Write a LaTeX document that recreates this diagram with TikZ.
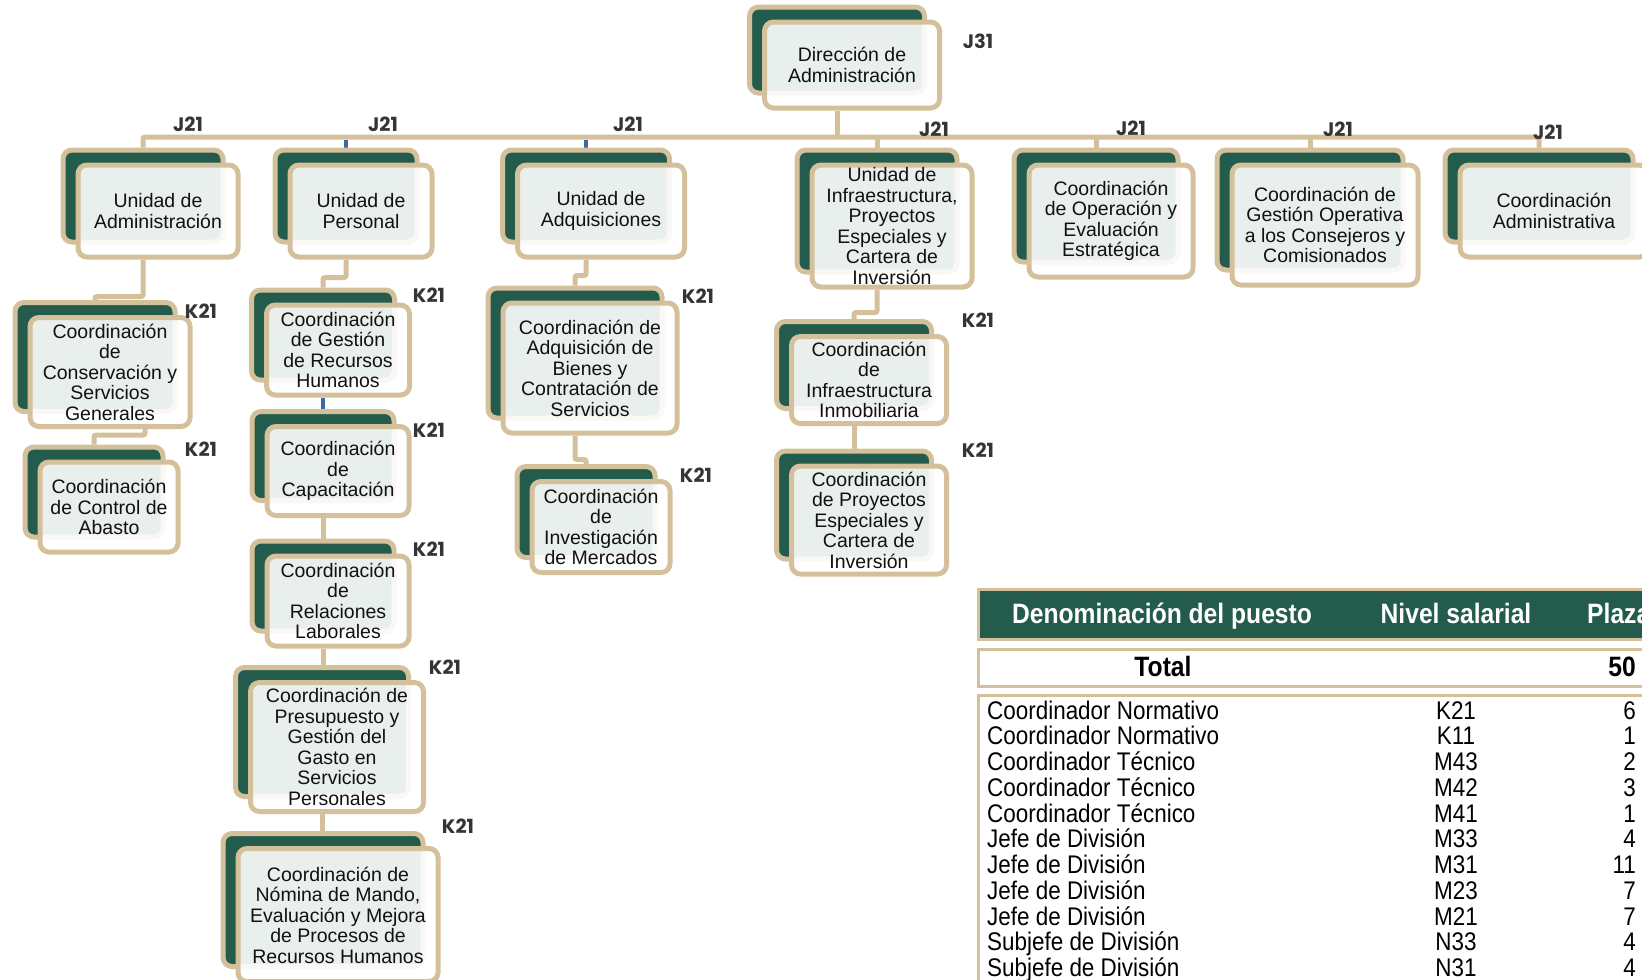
\documentclass[tikz,border=0pt]{standalone}
\usepackage{fontspec}
\setmainfont{Liberation Sans}
\newfontfamily\narrowfont[FakeStretch=0.88]{Liberation Sans}
\newfontfamily\lblfont{Poppins}
\usetikzlibrary{calc}
\definecolor{dkgreen}{HTML}{235C4C}
\definecolor{tanc}{HTML}{D4C19C}
\definecolor{txt}{HTML}{111111}
\definecolor{lblc}{HTML}{353535}
\definecolor{blu}{HTML}{3D68A4}
\pgfdeclarelayer{bg}
\pgfsetlayers{bg,main}
\tikzset{
  backbox/.style={draw=tanc, line width=5pt, fill=dkgreen, rounded corners=9pt, inner sep=0pt},
  frontbox/.style={draw=tanc, line width=5pt, fill=white, fill opacity=0.9, rounded corners=9pt, inner sep=0pt},
  boxtext/.style={align=center, inner sep=0pt, font=\fontsize{19.5}{20.5}\selectfont, text=txt},
  lbl/.style={font=\lblfont\bfseries\fontsize{19.5}{20}\selectfont, text=lblc, inner sep=0pt},
  conn/.style={draw=tanc, line width=5pt, rounded corners=2pt},
  bconn/.style={draw=blu, line width=3.5pt},
  hdr/.style={font=\narrowfont\bfseries\fontsize{28}{30}\selectfont, inner sep=0pt},
  rowt/.style={font=\narrowfont\fontsize{25.5}{27}\selectfont, text=black, inner sep=0pt},
  tabline/.style={draw=tanc, line width=3pt},
}
% name, back centre x, back centre y, width, height, text
\newcommand{\obox}[6]{%
  \node[backbox, minimum width=#4pt, minimum height=#5pt] (#1b) at (#2,#3) {};
  \node[frontbox, minimum width=#4pt, minimum height=#5pt, xshift=15pt, yshift=-15pt] (#1) at (#2,#3) {};
  \node[boxtext] (#1t) at (#1.center) {#6};
}
\begin{document}
\begin{tikzpicture}[x=1pt,y=-1pt]
\useasboundingbox (0,0) rectangle (1642,980);
\clip (0,0) rectangle (1642,980);

% ---------- boxes ----------
\obox{dir}{837}{50}{175}{86}{Dirección de\\Administración}
\obox{ua}{143}{196}{160}{92}{Unidad de\\Administración}
\obox{up}{346}{196}{142}{92}{Unidad de\\Personal}
\obox{uq}{586}{196}{167}{92}{Unidad de\\Adquisiciones}
\obox{ui}{877}{211}{160}{122}{Unidad de\\Infraestructura,\\Proyectos\\Especiales y\\Cartera de\\Inversión}
\obox{co}{1096}{206}{164}{112}{Coordinación\\de Operación y\\Evaluación\\Estratégica}
\obox{cg}{1310}{210}{186}{120}{Coordinación de\\Gestión Operativa\\a los Consejeros y\\Comisionados}
\obox{cad}{1539}{196}{188}{92}{Coordinación\\Administrativa}

\obox{ccs}{95}{357}{160}{109}{Coordinación\\de\\Conservación y\\Servicios\\Generales}
\obox{cca}{94}{492}{138}{90}{Coordinación\\de Control de\\Abasto}

\obox{cgr}{323}{335}{143}{90}{Coordinación\\de Gestión\\de Recursos\\Humanos}
\obox{ccp}{323}{456}{142}{89}{Coordinación\\de\\Capacitación}
\obox{crl}{323}{586}{142}{90}{Coordinación\\de\\Relaciones\\Laborales}
\obox{cpp}{322}{732}{173}{129}{Coordinación de\\Presupuesto y\\Gestión del\\Gasto en\\Servicios\\Personales}
\obox{cnm}{323}{900}{200}{133}{Coordinación de\\Nómina de Mando,\\Evaluación y Mejora\\de Procesos de\\Recursos Humanos}

\obox{cbs}{575}{353}{174}{130}{Coordinación de\\Adquisición de\\Bienes y\\Contratación de\\Servicios}
\obox{cim}{586}{512}{138}{91}{Coordinación\\de\\Investigación\\de Mercados}

\obox{cii}{854}{365}{155}{87}{Coordinación\\de\\Infraestructura\\Inmobiliaria}
\obox{cpe}{854}{505}{155}{108}{Coordinación\\de Proyectos\\Especiales y\\Cartera de\\Inversión}

% ---------- level labels ----------
\node[lbl] (l-dir) at (978,41) {J31};
\node[lbl] (l-ua) at (188,124) {J21};
\node[lbl] (l-up) at (383,124) {J21};
\node[lbl] (l-uq) at (628,124) {J21};
\node[lbl] (l-ui) at (934,129) {J21};
\node[lbl] (l-co) at (1131,128) {J21};
\node[lbl] (l-cg) at (1338,129) {J21};
\node[lbl] (l-cad) at (1548,132) {J21};
\node[lbl] (l-ccs) at (201,311) {K21};
\node[lbl] (l-cca) at (201,449) {K21};
\node[lbl] (l-cgr) at (429,295) {K21};
\node[lbl] (l-ccp) at (429,430) {K21};
\node[lbl] (l-crl) at (429,549) {K21};
\node[lbl] (l-cpp) at (445,667) {K21};
\node[lbl] (l-cnm) at (458,826) {K21};
\node[lbl] (l-cbs) at (698,296) {K21};
\node[lbl] (l-cim) at (696,475) {K21};
\node[lbl] (l-cii) at (978,320) {K21};
\node[lbl] (l-cpe) at (978,450) {K21};

% ---------- connectors ----------
\coordinate (bar) at (837,137);
\begin{pgfonlayer}{bg}
\draw[conn] (dirb.center |- dir.south) -- (bar);
\draw[conn] (uab.north) |- (bar) -| (cadb.north);
\draw[conn] (bar -| uib.north) -- (uib.north);
\draw[conn] (bar -| cob.north) -- (cob.north);
\draw[conn] (bar -| cgb.north) -- (cgb.north);
\draw[conn] (uab.center |- ua.south) -- ++(0,37) -| (ccsb.north);
\draw[conn] ([xshift=35pt]ccs.south) -- ++(0,6) -| (ccab.north);
\draw[conn] (upb.center |- up.south) -- ++(0,18) -| (cgrb.north);
\draw[conn] (ccpb.center |- ccp.south) -- (crlb.north);
\draw[conn] (crlb.center |- crl.south) -- (crlb.center |- cppb.north);
\draw[conn] (cppb.center |- cpp.south) -- (cppb.center |- cnmb.north);
\draw[conn] (uqb.center |- uq.south) -- ++(0,16) -| (cbsb.north);
\draw[conn] (cbsb.center |- cbs.south) -- ++(0,24) -| (cimb.north);
\draw[conn] (uib.center |- ui.south) -- ++(0,23) -| (ciib.north);
\draw[conn] (ciib.center |- cii.south) -- (cpeb.north);
\draw[bconn] ([yshift=-3pt]bar -| upb.north) -- (upb.north);
\draw[bconn] ([yshift=-3pt]bar -| uqb.north) -- (uqb.north);
\draw[bconn] (cgrb.center |- cgr.south) -- (ccpb.north);
\end{pgfonlayer}

% ---------- table ----------
\draw[tabline, fill=dkgreen] (978,589) rectangle (1700,639);
\draw[tabline, fill=white] (978,649) rectangle (1700,686);
\draw[tabline, fill=white] (978,695) rectangle (1700,1010);
\node[hdr, text=white, anchor=base] (h1) at (1162,623) {Denominación del puesto};
\node[hdr, text=white, anchor=base] (h2) at (1456,623) {Nivel salarial};
\node[hdr, text=white, anchor=base west] (h3) at (1587,623) {Plaza};
\node[hdr, text=black, anchor=base] (tot) at (1163,676) {Total};
\node[hdr, text=black, anchor=base east] (totn) at (1636,676) {50};
\foreach \n/\lv/\q [count=\i] in {
  Coordinador Normativo/K21/6,
  Coordinador Normativo/K11/1,
  Coordinador Técnico/M43/2,
  Coordinador Técnico/M42/3,
  Coordinador Técnico/M41/1,
  Jefe de División/M33/4,
  Jefe de División/M31/11,
  Jefe de División/M23/7,
  Jefe de División/M21/7,
  Subjefe de División/N33/4,
  Subjefe de División/N31/4}{
  \node[rowt, anchor=base west] (ra\i) at (987,{719+25.75*(\i-1)}) {\n};
  \node[rowt, anchor=base] (rb\i) at (1456,{719+25.75*(\i-1)}) {\lv};
  \node[rowt, anchor=base east] (rc\i) at (1636,{719+25.75*(\i-1)}) {\q};
}
\end{tikzpicture}
\end{document}
